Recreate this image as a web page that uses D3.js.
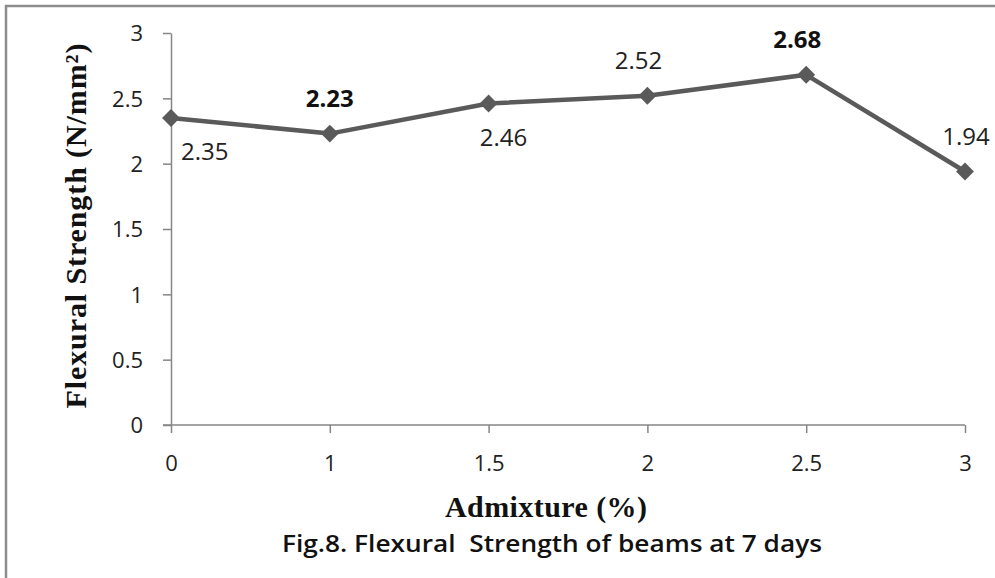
<!DOCTYPE html>
<meta charset="utf-8">
<html>
<head>
    <style>
        body { margin: 0; background: #fff; }
        .tick text { font-family: 'Open Sans', sans-serif; font-size: 22px; fill: #222; }
        .axis path, .axis line { stroke: #868686; stroke-width: 1.5; }
        .data-label { font-family: 'Open Sans', sans-serif; font-size: 24px; fill: #222; }
        .data-label.bold { font-weight: 700; fill: #111; }
        .axis-title { font-family: 'Liberation Serif', 'Times New Roman', serif; font-weight: 700; font-size: 30px; fill: #111; text-anchor: middle; }
        .caption { font-family: 'Open Sans', sans-serif; font-weight: 600; font-size: 24px; fill: #111; text-anchor: middle; white-space: pre; }
    </style>
</head>
<body>
<script src="https://d3js.org/d3.v7.min.js"></script>
<div id="chart"></div>
<script>
    // data
    const admixture = ["0", "1", "1.5", "2", "2.5", "3"];
    const strength = [2.35, 2.23, 2.46, 2.52, 2.68, 1.94];
    const boldLabels = [false, true, false, false, true, false];
    const yTicks = [0, 0.5, 1, 1.5, 2, 2.5, 3];

    // where each value label sits relative to its point
    const labelPlace = ["below-right", "above", "below", "above", "above", "above"];

    const W = 995, H = 578;
    const margin = { top: 33, right: 30, bottom: 153, left: 171 };

    const svg = d3.select("#chart").append("svg")
        .attr("width", W)
        .attr("height", H);

    // chart area border (only top/left visible in the picture)
    svg.append("rect")
        .attr("x", 6).attr("y", 6)
        .attr("width", W + 20).attr("height", H + 20)
        .attr("fill", "none")
        .attr("stroke", "#8c8c8c")
        .attr("stroke-width", 2.5);

    const x = d3.scalePoint()
        .domain(admixture)
        .range([margin.left, W - margin.right]);

    const y = d3.scaleLinear()
        .domain([0, 3])
        .range([H - margin.bottom, margin.top]);

    // y axis
    svg.append("g")
        .attr("class", "axis")
        .attr("transform", "translate(" + margin.left + ",0)")
        .call(d3.axisLeft(y).tickValues(yTicks).tickFormat(d3.format("")).tickSize(8).tickSizeOuter(0).tickPadding(20))
        .call(g => g.selectAll(".tick text").attr("dy", "0.35em"));

    // x axis
    svg.append("g")
        .attr("class", "axis")
        .attr("transform", "translate(0," + y(0) + ")")
        .call(d3.axisBottom(x).tickSize(8).tickSizeOuter(0).tickPadding(22))
        .call(g => g.select(".domain").attr("d", "M" + (margin.left - 8) + ",0H" + (W - margin.right)));

    const pts = admixture.map((a, i) => ({ a: a, v: strength[i], bold: boldLabels[i], place: labelPlace[i] }));

    // line
    svg.append("path")
        .datum(pts)
        .attr("fill", "none")
        .attr("stroke", "#5a5a5a")
        .attr("stroke-width", 4.5)
        .attr("stroke-linejoin", "round")
        .attr("d", d3.line().x(d => x(d.a)).y(d => y(d.v)));

    // diamond markers
    svg.selectAll(".marker")
        .data(pts)
        .enter()
        .append("path")
        .attr("class", "marker")
        .attr("d", d3.symbol().type(d3.symbolSquare).size(160))
        .attr("transform", d => "translate(" + x(d.a) + "," + y(d.v) + ") rotate(45)")
        .attr("fill", "#5a5a5a");

    // value labels
    svg.selectAll(".data-label")
        .data(pts)
        .enter()
        .append("text")
        .attr("class", d => "data-label" + (d.bold ? " bold" : ""))
        .attr("text-anchor", d => d.place == "below-right" ? "start" : "middle")
        .attr("x", d => {
            if (d.place == "below-right") return x(d.a) + 10;
            if (d.place == "below") return x(d.a) + 15;
            return x(d.a) - (d.a == "3" ? -1 : 9) * (d.a == "1" ? 0 : 1);
        })
        .attr("y", d => d.place == "above" ? y(d.v) - 27 : y(d.v) + 42)
        .text(d => d3.format(".2f")(d.v));

    // axis titles
    svg.append("text")
        .attr("class", "axis-title")
        .attr("x", 546)
        .attr("y", 517)
        .attr("textLength", 202)
        .attr("lengthAdjust", "spacing")
        .text("Admixture (%)");

    svg.append("text")
        .attr("class", "axis-title")
        .attr("transform", "translate(86,226) rotate(-90)")
        .attr("textLength", 365)
        .attr("lengthAdjust", "spacing")
        .text("Flexural Strength (N/mm²)");

    svg.append("text")
        .attr("class", "caption")
        .attr("x", 552)
        .attr("y", 552)
        .attr("textLength", 540)
        .attr("lengthAdjust", "spacingAndGlyphs")
        .text("Fig.8. Flexural  Strength of beams at 7 days");
</script>
</body>
</html>
